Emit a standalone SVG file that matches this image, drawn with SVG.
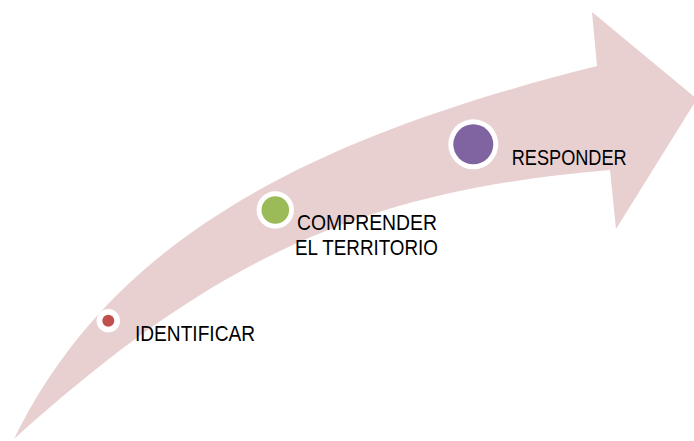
<svg xmlns="http://www.w3.org/2000/svg" width="694" height="441" viewBox="0 0 694 441">
<style>
.lbl{font-family:"Liberation Sans",Arial,sans-serif;font-size:22px;fill:#000}
.ring{fill:#fff}
</style>
<rect width="694" height="441" fill="#fff"/>
<g id="arrow">
<path d="M14,439 C114,234 318,136 597,66 L592,12 L697,99 L616,229 L610,170 C360,191 214,259 14,439 Z" fill="#E8D0D1"/>
</g>
<g id="identificar">
<circle class="ring" cx="108.3" cy="320.7" r="11.7"/>
<circle cx="108.3" cy="320.7" r="6" fill="#C0504D"/>
<text class="lbl" x="135" y="340.7" textLength="120" lengthAdjust="spacingAndGlyphs">IDENTIFICAR</text>
</g>
<g id="comprender">
<circle class="ring" cx="275.3" cy="210" r="18.7"/>
<circle cx="275.3" cy="210" r="13.8" fill="#9BBB59"/>
<text class="lbl" x="297" y="230" textLength="140" lengthAdjust="spacingAndGlyphs">COMPRENDER</text>
<text class="lbl" x="295" y="255" textLength="143" lengthAdjust="spacingAndGlyphs">EL TERRITORIO</text>
</g>
<g id="responder">
<circle class="ring" cx="473.3" cy="144.3" r="25"/>
<circle cx="473.3" cy="144.3" r="20" fill="#8064A2"/>
<text class="lbl" x="511.7" y="165" textLength="115" lengthAdjust="spacingAndGlyphs">RESPONDER</text>
</g>
<g id="connectors"/>
</svg>
